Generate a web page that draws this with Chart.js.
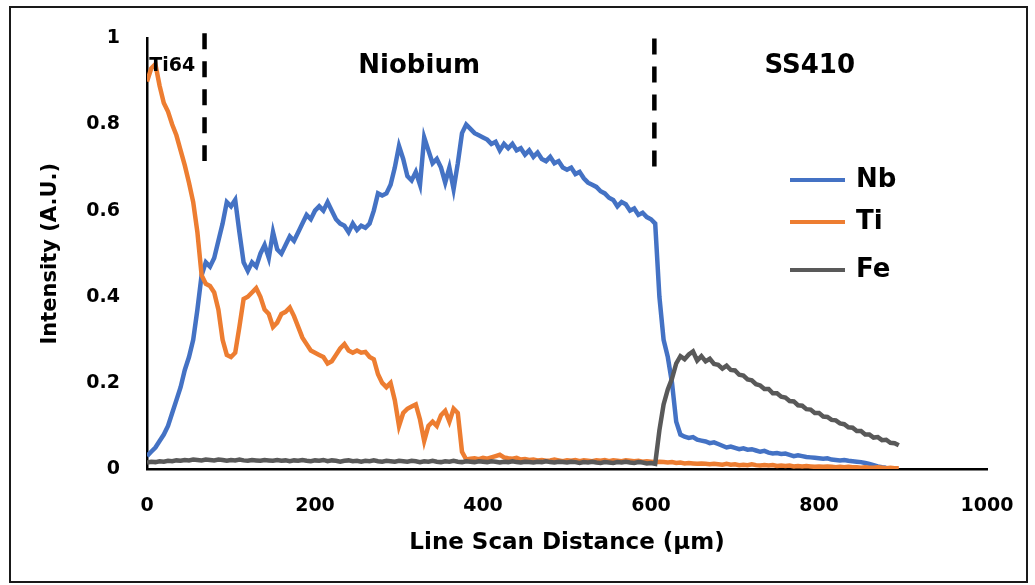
<!DOCTYPE html>
<html><head><meta charset="utf-8">
<script src="https://cdn.jsdelivr.net/npm/chart.js@4.4.0/dist/chart.umd.min.js"></script>
<style>html,body{margin:0;padding:0;background:#fff;overflow:hidden}#wrap{width:1035px;height:585px}</style>
</head><body><div id="wrap"><canvas id="c" width="1035" height="585"></canvas></div>
<script>
const distance = [
0,5,10,15,20,25,30,35,40,45,
50,55,60,65,70,75,80,85,90,95,
100,105,110,115,120,125,130,135,140,145,
150,155,160,165,170,175,180,185,190,195,
200,205,210,215,220,225,230,235,240,245,
250,255,260,265,270,275,280,285,290,295,
300,305,310,315,320,325,330,335,340,345,
350,355,360,365,370,375,380,385,390,395,
400,405,410,415,420,425,430,435,440,445,
450,455,460,465,470,475,480,485,490,495,
500,505,510,515,520,525,530,535,540,545,
550,555,560,565,570,575,580,585,590,595,
600,605,610,615,620,625,630,635,640,645,
650,655,660,665,670,675,680,685,690,695,
700,705,710,715,720,725,730,735,740,745,
750,755,760,765,770,775,780,785,790,795,
800,805,810,815,820,825,830,835,840,845,
850,855,860,865,870,875,880,885,890,895];

const nb = [
0.030,0.040,0.050,0.065,0.080,0.100,0.130,0.160,0.190,0.230,
0.260,0.300,0.370,0.450,0.480,0.470,0.490,0.530,0.570,0.620,
0.610,0.625,0.550,0.480,0.460,0.480,0.470,0.500,0.520,0.490,
0.550,0.510,0.500,0.520,0.540,0.530,0.550,0.570,0.590,0.580,
0.600,0.610,0.600,0.620,0.600,0.580,0.570,0.565,0.550,0.570,
0.555,0.565,0.560,0.570,0.600,0.640,0.635,0.640,0.660,0.700,
0.750,0.720,0.680,0.670,0.690,0.660,0.770,0.740,0.710,0.720,
0.700,0.665,0.700,0.650,0.710,0.780,0.800,0.790,0.780,0.775,
0.770,0.765,0.755,0.760,0.740,0.755,0.745,0.755,0.740,0.745,
0.730,0.740,0.725,0.735,0.720,0.715,0.725,0.710,0.715,0.700,
0.695,0.700,0.685,0.690,0.675,0.665,0.660,0.655,0.645,0.640,
0.630,0.625,0.610,0.620,0.615,0.600,0.605,0.590,0.595,0.585,
0.580,0.570,0.400,0.300,0.260,0.200,0.110,0.080,0.075,0.072,
0.074,0.068,0.066,0.064,0.060,0.062,0.058,0.054,0.050,0.052,
0.049,0.046,0.048,0.045,0.046,0.043,0.040,0.042,0.038,0.036,
0.037,0.035,0.036,0.033,0.030,0.032,0.030,0.028,0.027,0.026,
0.025,0.024,0.025,0.022,0.021,0.020,0.021,0.019,0.018,0.017,
0.016,0.014,0.012,0.009,0.006,0.004,0.003,null,null,null];

const ti = [
0.900,0.930,0.940,0.890,0.850,0.830,0.800,0.775,0.740,0.705,
0.665,0.620,0.550,0.450,0.430,0.425,0.410,0.370,0.300,0.265,
0.260,0.270,0.330,0.395,0.400,0.410,0.420,0.400,0.370,0.360,
0.330,0.340,0.360,0.365,0.375,0.355,0.330,0.305,0.290,0.275,
0.270,0.265,0.260,0.245,0.250,0.265,0.280,0.290,0.275,0.270,
0.275,0.270,0.272,0.260,0.255,0.220,0.200,0.190,0.200,0.160,
0.100,0.130,0.140,0.145,0.150,0.115,0.065,0.100,0.110,0.100,
0.125,0.135,0.110,0.140,0.130,0.040,0.022,0.024,0.025,0.023,
0.026,0.024,0.027,0.030,0.033,0.027,0.025,0.024,0.026,0.022,
0.023,0.021,0.022,0.020,0.021,0.019,0.020,0.022,0.020,0.018,
0.020,0.019,0.021,0.018,0.020,0.019,0.018,0.020,0.019,0.021,
0.018,0.020,0.019,0.018,0.020,0.019,0.018,0.019,0.017,0.018,
0.017,0.016,0.017,0.016,0.015,0.016,0.014,0.015,0.013,0.014,
0.013,0.012,0.013,0.012,0.011,0.012,0.011,0.010,0.012,0.010,
0.011,0.009,0.010,0.009,0.011,0.009,0.008,0.009,0.008,0.009,
0.007,0.008,0.007,0.008,0.006,0.007,0.006,0.007,0.006,0.005,
0.006,0.005,0.006,0.005,0.004,0.005,0.004,0.005,0.004,0.004,
0.003,0.004,0.003,0.003,0.004,0.003,0.002,0.003,0.002,0.002];

const fe = [
0.015,0.017,0.016,0.018,0.017,0.019,0.018,0.020,0.019,0.021,
0.020,0.022,0.021,0.020,0.022,0.021,0.020,0.022,0.021,0.019,
0.021,0.020,0.022,0.020,0.019,0.021,0.020,0.019,0.021,0.020,
0.019,0.021,0.019,0.020,0.018,0.020,0.019,0.021,0.019,0.018,
0.020,0.019,0.021,0.018,0.020,0.019,0.017,0.019,0.020,0.018,
0.019,0.017,0.019,0.018,0.020,0.018,0.017,0.019,0.018,0.017,
0.019,0.018,0.017,0.019,0.018,0.016,0.018,0.017,0.019,0.017,
0.016,0.018,0.017,0.019,0.017,0.016,0.018,0.017,0.016,0.018,
0.017,0.016,0.018,0.017,0.015,0.017,0.016,0.018,0.016,0.015,
0.017,0.016,0.015,0.017,0.016,0.018,0.016,0.015,0.017,0.016,
0.015,0.017,0.016,0.014,0.016,0.015,0.017,0.015,0.014,0.016,
0.015,0.014,0.016,0.015,0.017,0.015,0.014,0.016,0.015,0.013,
0.014,0.012,0.090,0.150,0.185,0.210,0.245,0.262,0.255,0.266,
0.273,0.252,0.262,0.250,0.256,0.244,0.242,0.233,0.240,0.230,
0.229,0.219,0.217,0.208,0.206,0.197,0.194,0.186,0.186,0.176,
0.176,0.168,0.166,0.158,0.157,0.148,0.147,0.139,0.138,0.130,
0.130,0.122,0.121,0.114,0.113,0.106,0.104,0.097,0.096,0.088,
0.088,0.080,0.080,0.073,0.074,0.067,0.068,0.061,0.060,0.055];

const seriesNames = ['Nb', 'Ti', 'Fe'];
const seriesColors = ['#4472C4', '#ED7D31', '#595959'];
const xTickValues = [0, 200, 400, 600, 800, 1000];
const yTickLabels = ['0', '0.2', '0.4', '0.6', '0.8', '1'];
const boundaryPositions = [68.5, 604];
const regionNames = ['Ti64', 'Niobium', 'SS410'];
const regionCenters = [30, 324, 789];

const FONT = '"DejaVu Sans", sans-serif';

function pts(vals) { return distance.map((d, i) => ({ x: d, y: vals[i] })); }

const decor = {
  id: 'decor',
  beforeDraw(chart) {
    const ctx = chart.ctx;
    ctx.save();
    ctx.fillStyle = '#fff';
    ctx.fillRect(0, 0, chart.width, chart.height);
    ctx.restore();
  },
  afterDraw(chart) {
    const ctx = chart.ctx;
    const xs = chart.scales.x, ys = chart.scales.y;
    ctx.save();
    ctx.strokeStyle = '#1a1a1a';
    ctx.lineWidth = 2;
    ctx.strokeRect(10, 7, 1017, 575);
    ctx.strokeStyle = '#000';
    ctx.lineWidth = 4.5;
    ctx.setLineDash([16, 12]);
    const tops = [1.012, 1.0];
    const bots = [0.715, 0.69];
    boundaryPositions.forEach((b, i) => {
      const px = xs.getPixelForValue(b);
      ctx.beginPath();
      ctx.moveTo(px, ys.getPixelForValue(tops[i]));
      ctx.lineTo(px, ys.getPixelForValue(bots[i]));
      ctx.stroke();
    });
    ctx.setLineDash([]);
    ctx.fillStyle = '#000';
    ctx.textAlign = 'center';
    ctx.textBaseline = 'middle';
    const sizes = [19, 26, 26];
    regionNames.forEach((t, i) => {
      ctx.font = 'bold ' + sizes[i] + 'px ' + FONT;
      ctx.fillText(t, xs.getPixelForValue(regionCenters[i]), ys.getPixelForValue(0.936));
    });
    const ly = [180, 222, 270];
    ctx.textAlign = 'left';
    ctx.font = 'bold 26px ' + FONT;
    chart.data.datasets.forEach((ds, i) => {
      ctx.strokeStyle = ds.borderColor;
      ctx.lineWidth = 4;
      ctx.beginPath();
      ctx.moveTo(790, ly[i]);
      ctx.lineTo(845, ly[i]);
      ctx.stroke();
      ctx.fillStyle = '#000';
      ctx.fillText(ds.label, 856, ly[i]);
    });
    ctx.restore();
  }
};

const datasetsVals = [nb, ti, fe];
new Chart(document.getElementById('c'), {
  type: 'line',
  data: {
    datasets: seriesNames.map((n, i) => ({
      label: n,
      data: pts(datasetsVals[i]),
      borderColor: seriesColors[i],
      backgroundColor: seriesColors[i],
      borderWidth: 4.5,
      pointRadius: 0,
      tension: 0,
      spanGaps: false,
      order: 3 - i
    }))
  },
  options: {
    responsive: false,
    animation: false,
    devicePixelRatio: 1,
    layout: { padding: { left: 0, top: 33, right: 48, bottom: 0 } },
    plugins: { legend: { display: false }, tooltip: { enabled: false } },
    scales: {
      x: {
        type: 'linear', min: 0, max: 1000,
        afterBuildTicks(s) { s.ticks = xTickValues.map(v => ({ value: v })); },
        afterFit(s) { s.height = 116; s.paddingRight = 0; s.paddingLeft = 0; },
        grid: { display: false, drawTicks: false },
        border: { display: true, color: '#000', width: 2.5 },
        ticks: { color: '#000', padding: 26, font: { family: FONT, size: 19, weight: 'bold' },
          callback: (v) => String(v) },
        title: { display: true, text: 'Line Scan Distance (μm)', color: '#000', padding: { top: 0, bottom: 28 }, font: { family: FONT, size: 23, weight: 'bold' } }
      },
      y: {
        min: 0, max: 1,
        afterBuildTicks(s) { s.ticks = yTickLabels.map((l, i) => ({ value: i * 0.2 })); },
        afterFit(s) { s.width = 147; },
        grid: { display: false, drawTicks: false },
        border: { display: true, color: '#000', width: 2.5 },
        ticks: { color: '#000', padding: 27, font: { family: FONT, size: 19, weight: 'bold' },
          callback: (v, i) => yTickLabels[i] },
        title: { display: true, text: 'Intensity (A.U.)', color: '#000', padding: { top: 38, bottom: 0 }, font: { family: FONT, size: 21, weight: 'bold' } }
      }
    }
  },
  plugins: [decor]
});
</script></body></html>
